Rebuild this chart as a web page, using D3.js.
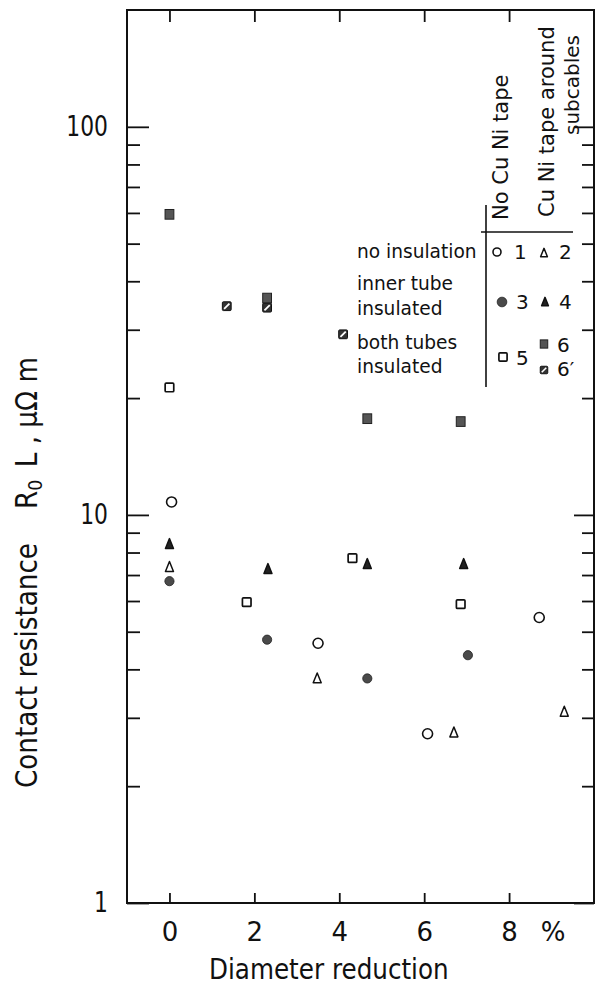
<!DOCTYPE html>
<html>
<head>
<meta charset="utf-8">
<script src="https://cdn.jsdelivr.net/npm/d3@7"></script>
<style>
  body { margin: 0; background: #fff; }
  svg text { font-family: "DejaVu Sans", sans-serif; fill: #111; }
  .axis line { stroke: #111; stroke-width: 1.8; }
  .axis path { display: none; }
</style>
</head>
<body>
<div id="chart"></div>
<script>
// diameter reduction (%) and contact resistance R0 L (µΩ m)
var s1 = [[0.05, 10.8], [3.5, 4.67], [6.08, 2.73], [8.71, 5.44]];   // no insulation, no CuNi tape
var s2 = [[0, 7.34], [3.48, 3.79], [6.7, 2.75], [9.3, 3.11]];       // no insulation, CuNi tape
var s3 = [[0, 6.75], [2.3, 4.77], [4.66, 3.79], [7.03, 4.35]];      // inner tube insulated, no tape
var s4 = [[0, 8.41], [2.32, 7.25], [4.66, 7.47], [6.93, 7.47]];     // inner tube insulated, tape
var s5 = [[0, 21.3], [1.82, 5.96], [4.31, 7.74], [6.86, 5.89]];     // both tubes insulated, no tape
var s6 = [[0, 59.5], [2.3, 36.2], [4.66, 17.7], [6.86, 17.4]];      // both tubes insulated, tape
var s6b = [[1.35, 34.5], [2.3, 34.2], [4.09, 29.2]];                // 6'

var xTicks = [0, 2, 4, 6, 8];
var yMajor = [1, 10, 100];
var yMinor = [2, 3, 4, 5, 6, 7, 8, 9, 20, 30, 40, 50, 60, 70, 80, 90];

var W = 596, H = 987;
var plotL = 127, plotR = 594, plotT = 10, plotB = 903;

var svg = d3.select("#chart").append("svg")
  .attr("width", W)
  .attr("height", H);

var x = d3.scaleLinear().domain([-1, 10]).range([plotL, plotR]);
var y = d3.scaleLog().domain([1, 200]).range([plotB, plotT]);

// frame
svg.append("rect")
  .attr("x", plotL).attr("y", plotT)
  .attr("width", plotR - plotL).attr("height", plotB - plotT)
  .attr("fill", "none").attr("stroke", "#111").attr("stroke-width", 2);

// bottom axis with labels
svg.append("g").attr("class", "axis")
  .attr("transform", "translate(0," + plotB + ")")
  .call(d3.axisBottom(x).tickValues(xTicks).tickSizeInner(-10).tickSizeOuter(0).tickPadding(19.5))
  .selectAll("text").style("font-size", "26px");

svg.append("text")
  .attr("x", x(8) + 44).attr("y", 941)
  .attr("text-anchor", "middle")
  .style("font-size", "26px")
  .text("%");

// top axis
svg.append("g").attr("class", "axis")
  .attr("transform", "translate(0," + plotT + ")")
  .call(d3.axisTop(x).tickValues(xTicks).tickSizeInner(-12).tickSizeOuter(0).tickFormat(""));

// left axis, labels squeezed a little to look like the narrow lettering
var ySq = 0.78;
svg.append("g").attr("class", "axis")
  .attr("transform", "translate(" + plotL + ",0)")
  .call(d3.axisLeft(y).tickValues(yMajor).tickSizeInner(-22).tickSizeOuter(0).tickPadding(19).tickFormat(d3.format("d")))
  .selectAll("text")
  .style("font-size", "28px")
  .attr("x", -19 / ySq)
  .attr("transform", "scale(" + ySq + ",1)");

svg.append("g").attr("class", "axis")
  .attr("transform", "translate(" + plotL + ",0)")
  .call(d3.axisLeft(y).tickValues(yMinor).tickSizeInner(-13).tickSizeOuter(0).tickFormat(""));

// right axis
svg.append("g").attr("class", "axis")
  .attr("transform", "translate(" + plotR + ",0)")
  .call(d3.axisRight(y).tickValues(yMajor).tickSizeInner(-20).tickSizeOuter(0).tickFormat(""));

svg.append("g").attr("class", "axis")
  .attr("transform", "translate(" + plotR + ",0)")
  .call(d3.axisRight(y).tickValues(yMinor).tickSizeInner(-12).tickSizeOuter(0).tickFormat(""));

// axis titles
svg.append("text")
  .attr("transform", "translate(209,979) scale(0.85,1)")
  .style("font-size", "29px")
  .text("Diameter reduction");

var yt = svg.append("text")
  .attr("transform", "translate(37,788) rotate(-90) scale(0.875,1)")
  .style("font-size", "30px");
yt.append("tspan").text("Contact resistance");
yt.append("tspan").attr("dx", 39).text("R");
yt.append("tspan").attr("dy", 5).style("font-size", "20px").text("0");
yt.append("tspan").attr("dy", -5).attr("dx", 14).text("L , \u03bc\u03a9 m");

// marker drawing
function marker(g, type, cx, cy, k) {
  k = k || 1;
  if (type === "oc") {
    g.append("circle").attr("cx", cx).attr("cy", cy).attr("r", 5 * k)
      .attr("fill", "#fff").attr("stroke", "#111").attr("stroke-width", 1.6);
  } else if (type === "fc") {
    g.append("circle").attr("cx", cx).attr("cy", cy).attr("r", 4.6 * k)
      .attr("fill", "#4a4a4a").attr("stroke", "#222").attr("stroke-width", 0.8);
  } else if (type === "ot" || type === "ft") {
    var w = 4 * k, h = 5.5 * k;
    g.append("path")
      .attr("d", "M" + cx + "," + (cy - h) + "L" + (cx + w) + "," + (cy + h * 0.8) + "L" + (cx - w) + "," + (cy + h * 0.8) + "Z")
      .attr("fill", type === "ft" ? "#222" : "#fff")
      .attr("stroke", "#111").attr("stroke-width", 1.5).attr("stroke-linejoin", "round");
  } else if (type === "os") {
    var a = 4.3 * k;
    g.append("rect").attr("x", cx - a).attr("y", cy - a).attr("width", 2 * a).attr("height", 2 * a)
      .attr("rx", 1).attr("fill", "#fff").attr("stroke", "#111").attr("stroke-width", 1.7);
  } else if (type === "fs") {
    var b = 4.4 * k;
    g.append("rect").attr("x", cx - b).attr("y", cy - b * 1.1).attr("width", 2 * b).attr("height", 2.2 * b)
      .attr("fill", "#555").attr("stroke", "#222").attr("stroke-width", 1);
  } else if (type === "hs") {
    var c = 4.4 * k;
    g.append("rect").attr("x", cx - c).attr("y", cy - c).attr("width", 2 * c).attr("height", 2 * c)
      .attr("rx", 1).attr("fill", "#333").attr("stroke", "#111").attr("stroke-width", 1);
    g.append("line").attr("x1", cx - c * 0.6).attr("y1", cy + c * 0.6)
      .attr("x2", cx + c * 0.6).attr("y2", cy - c * 0.6)
      .attr("stroke", "#fff").attr("stroke-width", 1.8 * k);
  }
}

var series = [
  { data: s1, type: "oc" },
  { data: s2, type: "ot" },
  { data: s3, type: "fc" },
  { data: s4, type: "ft" },
  { data: s5, type: "os" },
  { data: s6, type: "fs" },
  { data: s6b, type: "hs" }
];

var pts = svg.append("g");
series.forEach(function(s) {
  s.data.forEach(function(d) {
    marker(pts, s.type, x(d[0]), y(d[1]));
  });
});

// legend
var lg = svg.append("g");
lg.append("line").attr("x1", 486).attr("y1", 205).attr("x2", 486).attr("y2", 387)
  .attr("stroke", "#111").attr("stroke-width", 1.6);
lg.append("line").attr("x1", 481).attr("y1", 232).attr("x2", 573).attr("y2", 232)
  .attr("stroke", "#111").attr("stroke-width", 1.6);

lg.append("text").attr("transform", "translate(508,220) rotate(-90)")
  .style("font-size", "21px").text("No Cu Ni tape");
lg.append("text").attr("transform", "translate(554,217) rotate(-90)")
  .style("font-size", "21px").text("Cu Ni tape around");
lg.append("text").attr("transform", "translate(579,135) rotate(-90)")
  .style("font-size", "20px").text("subcables");

var rowText = [
  { t: "no insulation", y: 258 },
  { t: "inner tube", y: 290 },
  { t: "insulated", y: 315 },
  { t: "both tubes", y: 349 },
  { t: "insulated", y: 373 }
];
rowText.forEach(function(r) {
  lg.append("text").attr("transform", "translate(357," + r.y + ") scale(0.93,1)")
    .style("font-size", "20px").text(r.t);
});

function num(t, px, py) {
  lg.append("text").attr("x", px).attr("y", py).style("font-size", "20px").text(t);
}
marker(lg, "oc", 497, 252, 0.8); num("1", 514, 259);
marker(lg, "ot", 544, 253, 0.85); num("2", 559, 259);
marker(lg, "fc", 502, 302, 1.05); num("3", 516, 309);
marker(lg, "ft", 545, 302, 0.85); num("4", 559, 309);
marker(lg, "os", 503, 357, 0.95); num("5", 516, 365);
marker(lg, "fs", 544, 344, 0.85); num("6", 557, 352);
marker(lg, "hs", 544, 370, 0.85); num("6\u2032", 557, 376);
</script>
</body>
</html>
